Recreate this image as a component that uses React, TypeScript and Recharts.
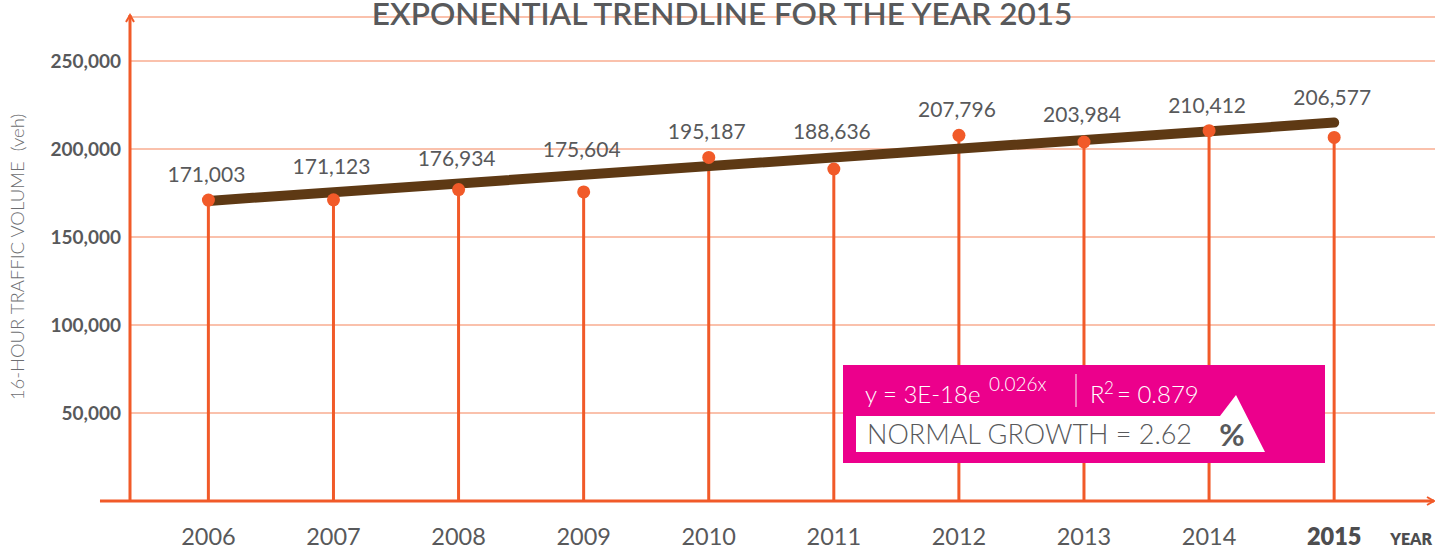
import React from "react";
import {
  ComposedChart,
  Bar,
  Line,
  XAxis,
  YAxis,
  CartesianGrid,
  ReferenceLine,
  LabelList,
} from "recharts";

const years = [2006, 2007, 2008, 2009, 2010, 2011, 2012, 2013, 2014, 2015];
const volumes = [171003, 171123, 176934, 175604, 195187, 188636, 207796, 203984, 210412, 206577];
const trendYears = [2006, 2015];
const trendValues = [170500, 215000];
const yTicks = [50000, 100000, 150000, 200000, 250000];

const data = years.map((year, i) => ({ year, volume: volumes[i] }));
const trendData = trendYears.map((year, i) => ({ year, trend: trendValues[i] }));

const W = 1435;
const H = 549;
const TOP = 17;
const X_AXIS_H = 48;
const Y_AXIS_W = 130;
const Y_MAX = 275000;
const X_DOMAIN = [2005.373, 2015.806];
const X_LINE_START = 2005.133;

const ORANGE = "#F15A29";
const GRID = "#F9AC90";
const BROWN = "#5E3914";
const GRAY = "#58595B";
const PINK = "#EC008C";
const FONT = "Lato, 'Open Sans', sans-serif";

const pxPerUnit = (H - X_AXIS_H - TOP) / Y_MAX;

const trendAt = (year: number) => {
  const t = (year - trendYears[0]) / (trendYears[1] - trendYears[0]);
  return trendValues[0] + t * (trendValues[1] - trendValues[0]);
};

const fmt = (v: number) => v.toLocaleString("en-US");

const YAxisArrow = (props: any) => {
  const { x1, y1, y2 } = props;
  const top = Math.min(y1, y2);
  const bottom = Math.max(y1, y2);
  const tip = top - 2;
  return (
    <g>
      <line x1={x1} y1={bottom} x2={x1} y2={tip} stroke={ORANGE} strokeWidth={3} />
      <polyline
        points={`${x1 - 4},${tip + 7} ${x1},${tip} ${x1 + 4},${tip + 7}`}
        fill="none"
        stroke={ORANGE}
        strokeWidth={2}
      />
    </g>
  );
};

const XAxisArrow = (props: any) => {
  const { x1, y1, x2 } = props;
  const left = Math.min(x1, x2);
  const right = Math.max(x1, x2) - 1;
  return (
    <g>
      <line x1={left} y1={y1} x2={right} y2={y1} stroke={ORANGE} strokeWidth={3} />
      <polyline
        points={`${right - 7},${y1 - 4} ${right},${y1} ${right - 7},${y1 + 4}`}
        fill="none"
        stroke={ORANGE}
        strokeWidth={2}
      />
    </g>
  );
};

const YTick = (props: any) => {
  const { x, y, payload } = props;
  return (
    <text x={x - 9} y={y + 7} textAnchor="end" fill={GRAY} fontFamily={FONT} fontWeight={700} fontSize={19}>
      {fmt(payload.value)}
    </text>
  );
};

const XTick = (props: any) => {
  const { x, y, payload } = props;
  const last = payload.value === years[years.length - 1];
  return (
    <text
      x={x}
      y={y + 44}
      textAnchor="middle"
      fill={last ? "#4D4D4F" : GRAY}
      fontFamily={FONT}
      fontWeight={last ? 800 : 400}
      fontSize={23.5}
    >
      {payload.value}
    </text>
  );
};

const ValueLabel = (props: any) => {
  const { x, y, value, index } = props;
  const trend = trendAt(years[index]);
  const lift = Math.max(0, trend - value) * pxPerUnit;
  const cy = y - lift - 25;
  return (
    <text x={x - 2} y={cy + 7} textAnchor="middle" fill={GRAY} fontFamily={FONT} fontWeight={400} fontSize={21}>
      {fmt(value)}
    </text>
  );
};

const Overlay = () => (
  <svg width={W} height={H} style={{ position: "absolute", left: 0, top: 0, pointerEvents: "none" }}>
    <text x={722} y={25} textAnchor="middle" fill={GRAY} fontFamily={FONT} fontWeight={600} fontSize={31.5}>
      EXPONENTIAL TRENDLINE FOR THE YEAR 2015
    </text>
    <text
      transform="translate(24,257) rotate(-90)"
      textAnchor="middle"
      fill="#6D6E71"
      fontFamily={FONT}
      fontWeight={300}
      fontSize={18.5}
    >
      {"16-HOUR TRAFFIC VOLUME\u00a0\u00a0(veh)"}
    </text>
    <text x={1432} y={545} textAnchor="end" fill="#4D4D4F" fontFamily={FONT} fontWeight={800} fontSize={16}>
      YEAR
    </text>

    <rect x={843} y={365} width={482} height={98} fill={PINK} />
    <text x={865} y={403} fill="#fff" fontFamily={FONT} fontWeight={300} fontSize={24}>
      y = 3E-18e
    </text>
    <text x={989} y={391} fill="#fff" fontFamily={FONT} fontWeight={300} fontSize={19}>
      0.026x
    </text>
    <line x1={1076} y1={374} x2={1076} y2={407} stroke="#F7A3D1" strokeWidth={1.5} />
    <text x={1090} y={403} fill="#fff" fontFamily={FONT} fontWeight={300} fontSize={24}>
      R
    </text>
    <text x={1104} y={394} fill="#fff" fontFamily={FONT} fontWeight={300} fontSize={17}>
      2
    </text>
    <text x={1117} y={403} fill="#fff" fontFamily={FONT} fontWeight={300} fontSize={24}>
      = 0.879
    </text>
    <polygon points="856,416 1220,416 1236,395 1265,452 856,452" fill="#fff" />
    <text x={867} y={444} fill={GRAY} fontFamily={FONT} fontWeight={300} fontSize={27}>
      NORMAL GROWTH = 2.62
    </text>
    <text x={1232} y={446} textAnchor="middle" fill={GRAY} fontFamily={FONT} fontWeight={700} fontSize={31}>
      %
    </text>
  </svg>
);

export default function App() {
  return (
    <div style={{ position: "absolute", left: 0, top: 0, width: W, height: H, background: "#fff" }}>
      <ComposedChart width={W} height={H} data={data} margin={{ top: TOP, right: 0, bottom: 0, left: 0 }}>
        <CartesianGrid horizontal vertical={false} stroke={GRID} strokeWidth={1.5} />
        <XAxis
          dataKey="year"
          type="number"
          domain={X_DOMAIN}
          ticks={years}
          allowDataOverflow
          axisLine={false}
          tickLine={false}
          tickSize={0}
          tickMargin={0}
          height={X_AXIS_H}
          tick={<XTick />}
          interval={0}
        />
        <YAxis
          type="number"
          domain={[0, Y_MAX]}
          ticks={yTicks}
          axisLine={false}
          tickLine={false}
          tickSize={0}
          tickMargin={0}
          width={Y_AXIS_W}
          tick={<YTick />}
          interval={0}
        />
        <Bar dataKey="volume" barSize={3} fill={ORANGE} isAnimationActive={false} />
        <Line
          data={trendData}
          dataKey="trend"
          stroke={BROWN}
          strokeWidth={10}
          strokeLinecap="round"
          dot={false}
          activeDot={false}
          isAnimationActive={false}
        />
        <Line
          dataKey="volume"
          stroke="none"
          dot={{ r: 6.5, fill: ORANGE, stroke: "none" }}
          activeDot={false}
          isAnimationActive={false}
        >
          <LabelList dataKey="volume" content={<ValueLabel />} />
        </Line>
        <ReferenceLine x={X_DOMAIN[0]} shape={<YAxisArrow />} />
        <ReferenceLine
          segment={[
            { x: X_LINE_START, y: 0 },
            { x: X_DOMAIN[1], y: 0 },
          ]}
          ifOverflow="visible"
          shape={<XAxisArrow />}
        />
      </ComposedChart>
      <Overlay />
    </div>
  );
}
